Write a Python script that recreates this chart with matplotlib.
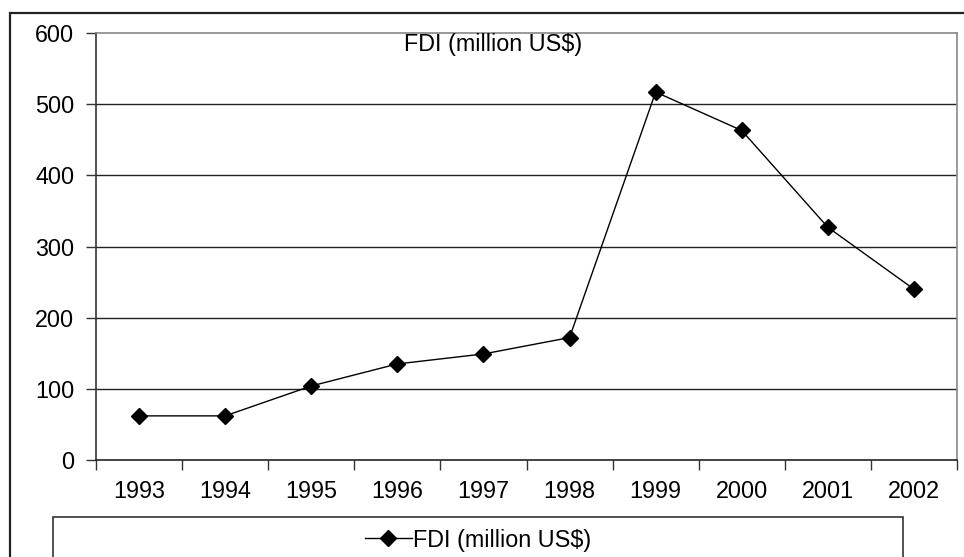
import matplotlib.pyplot as plt
from matplotlib.patches import Rectangle
from matplotlib.lines import Line2D

plt.rcParams['font.family'] = ['Liberation Sans', 'DejaVu Sans']

# FDI inflows per year
years = ['1993', '1994', '1995', '1996', '1997', '1998', '1999', '2000', '2001', '2002']
fdi = [62, 62, 104, 135, 149, 172, 517, 463, 327, 240]
yticks = [0, 100, 200, 300, 400, 500, 600]
label = 'FDI (million US$)'

W, H = 964, 557
FS = 16.8
fig = plt.figure(figsize=(W / 100, H / 100), dpi=100)

# outer chart frame (runs off the right and bottom edges)
fig.add_artist(Rectangle((10 / W, -0.1), 1.1, (557 - 13) / H + 0.1, transform=fig.transFigure,
                         fill=False, edgecolor='#222222', linewidth=1.6))

ax = fig.add_axes([96 / W, (H - 460) / H, (957 - 96) / W, (460 - 33) / H])
x = list(range(len(years)))
ax.plot(x, fdi, color='black', linewidth=1.0, marker='D', markersize=8,
        markerfacecolor='black', markeredgecolor='black', zorder=3)

ax.set_xlim(-0.5, len(years) - 0.5)
ax.set_ylim(0, 600)
ax.set_yticks(yticks)
ax.set_yticklabels([str(v) for v in yticks], fontsize=FS)
ax.set_xticks([i - 0.5 for i in range(len(years) + 1)], minor=False)
ax.set_xticklabels([])
ax.set_xticks(x, minor=True)
ax.set_xticklabels(years, minor=True, fontsize=FS)
ax.tick_params(axis='x', which='major', direction='out', length=7, width=1, color='#333333')
ax.tick_params(axis='x', which='minor', length=0, pad=14.5)
ax.tick_params(axis='y', direction='out', length=7, width=1, color='#333333', pad=8.5)

for v in yticks[1:-1]:
    ax.axhline(v, color='#222222', linewidth=1.0, zorder=1)

for side in ['top', 'right']:
    ax.spines[side].set_color('#888888')
    ax.spines[side].set_linewidth(1.2)
ax.spines['left'].set_color('#333333')
ax.spines['bottom'].set_color('#222222')
ax.spines['left'].set_linewidth(1.2)
ax.spines['bottom'].set_linewidth(1.2)

fig.text(493 / W, 1 - 45 / H, label, ha='center', va='center', fontsize=FS)

# legend box at the bottom
fig.add_artist(Rectangle((53 / W, -0.1), (903 - 53) / W, (557 - 517) / H + 0.1,
                         transform=fig.transFigure, fill=False, edgecolor='#333333', linewidth=1.2))
handle = Line2D([], [], color='black', linewidth=1.0, marker='D', markersize=8)
fig.legend([handle], [label], loc='center', bbox_to_anchor=(478 / W, 1 - 540 / H),
           frameon=False, fontsize=FS, handlelength=2.0, handletextpad=0.05)

fig.savefig('out.png', dpi=100)
